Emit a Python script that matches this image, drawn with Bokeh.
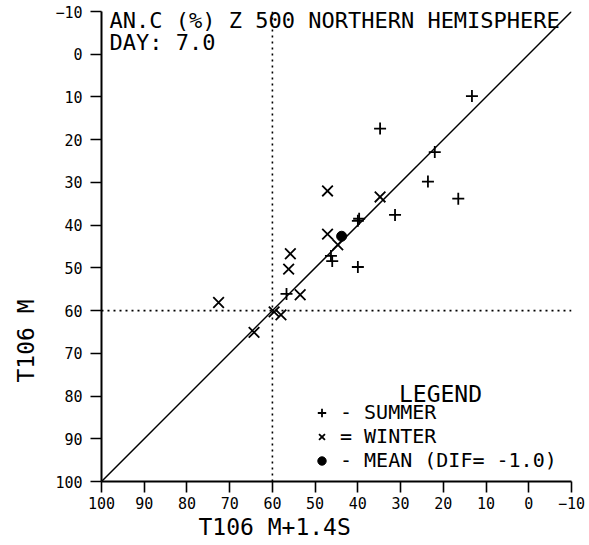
import math
from bokeh.plotting import figure
from bokeh.models import Range1d, FixedTicker, Span, Label, Legend, LegendItem, Title
from bokeh.embed import file_html
from bokeh.resources import INLINE

FONT = "DejaVu Sans Mono"

# ---- data ----
summer_x = [13.3, 34.8, 22.0, 23.6, 16.5, 31.3, 40.0, 39.7, 46.3, 46.0, 40.0, 56.7]
summer_y = [9.8, 17.4, 22.9, 29.8, 33.8, 37.6, 39.0, 38.5, 47.2, 48.4, 49.8, 56.1]
winter_x = [47.1, 34.8, 47.1, 44.7, 55.8, 56.2, 53.5, 72.6, 59.6, 58.0, 64.3]
winter_y = [32.0, 33.4, 42.1, 44.6, 46.7, 50.3, 56.3, 58.1, 60.3, 61.0, 65.1]
mean_x = [43.8]
mean_y = [42.6]
diag = [100, -10]
ref_value = 60
ticks = [-10, 0, 10, 20, 30, 40, 50, 60, 70, 80, 90, 100]

title_line1 = "AN.C (%) Z 500 NORTHERN HEMISPHERE"
title_line2 = "DAY: 7.0"
x_title = "T106 M+1.4S"
y_title = "T106 M"

p = figure(width=589, height=545, output_backend="svg", toolbar_location=None,
           x_range=Range1d(100, -10), y_range=Range1d(100, -10),
           min_border_left=101, min_border_right=18, min_border_top=11,
           min_border_bottom=64)
p.outline_line_color = None
p.grid.visible = False

for ax in (p.xaxis[0], p.yaxis[0]):
    ax.ticker = FixedTicker(ticks=ticks)
    ax.axis_line_width = 2
    ax.axis_line_color = "black"
    ax.major_tick_line_width = 1.6
    ax.major_tick_line_color = "black"
    ax.major_tick_out = 11
    ax.major_tick_in = 0
    ax.minor_tick_line_color = None
    ax.major_label_text_font = FONT
    ax.major_label_text_font_size = "15px"
    ax.major_label_text_color = "black"
p.xaxis[0].major_label_standoff = 4
p.yaxis[0].major_label_standoff = 8

# axis titles as side titles (offset along the axis like the reference)
p.add_layout(Title(text=x_title, align="left", offset=97, standoff=0,
                   text_font=FONT, text_font_size="23px", text_font_style="normal",
                   text_color="black"), "below")
p.add_layout(Title(text=y_title, align="left", offset=99, standoff=24,
                   vertical_align="top",
                   text_font=FONT, text_font_size="23px", text_font_style="normal",
                   text_color="black"), "left")

p.line(diag, diag, line_color="black", line_width=1.5)
p.add_layout(Span(location=ref_value, dimension="height", line_color="black",
                  line_dash="2 4", line_width=1.6))
p.add_layout(Span(location=ref_value, dimension="width", line_color="black",
                  line_dash="2 4", line_width=1.6))

r1 = p.scatter(summer_x, summer_y, marker="cross", size=12,
               line_color="black", line_width=1.8)
r2 = p.scatter(winter_x, winter_y, marker="x", size=15,
               line_color="black", line_width=1.8)
r3 = p.scatter(mean_x, mean_y, marker="circle", size=10,
               fill_color="black", line_color="black")

legend = Legend(items=[LegendItem(label="- SUMMER", renderers=[r1]),
                       LegendItem(label="= WINTER", renderers=[r2]),
                       LegendItem(label="- MEAN (DIF= -1.0)", renderers=[r3])],
                location=(210, 9), padding=0, spacing=0, margin=0,
                glyph_width=21, glyph_height=21, label_height=21,
                label_standoff=8, border_line_color=None,
                background_fill_alpha=0, label_text_font=FONT,
                label_text_font_size="20px", label_text_line_height=1.0,
                label_text_color="black")
p.add_layout(legend)

p.add_layout(Label(x=339, y=88, x_units="screen", y_units="screen", text="LEGEND",
                   text_font=FONT, text_font_size="23px", text_align="center",
                   text_baseline="alphabetic", text_color="black"))
p.add_layout(Label(x=8, y=461, x_units="screen", y_units="screen", text=title_line1,
                   text_font=FONT, text_font_size="22px", text_align="left",
                   text_baseline="alphabetic", text_color="black"))
p.add_layout(Label(x=8, y=439, x_units="screen", y_units="screen", text=title_line2,
                   text_font=FONT, text_font_size="22px", text_align="left",
                   text_baseline="alphabetic", text_color="black"))

open("out.html", "w").write(file_html(p, INLINE))
